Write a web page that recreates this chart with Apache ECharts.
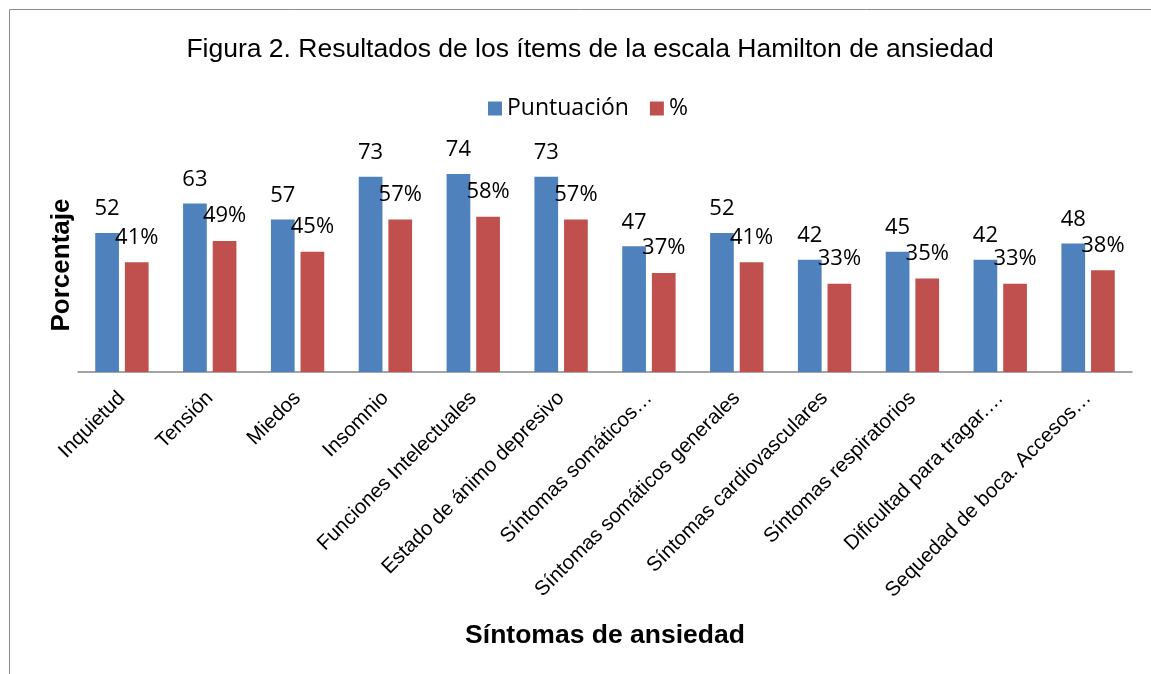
<!DOCTYPE html>
<html>
<head>
<meta charset="utf-8">
<script src="https://cdn.jsdelivr.net/npm/echarts@6/dist/echarts.min.js"></script>
<style>
  html, body { margin: 0; padding: 0; background: #fff; }
  #chart { width: 1151px; height: 674px; }
</style>
</head>
<body>
<div id="chart"></div>
<script>
// Categories and values
const categories = [
  'Inquietud',
  'Tensión',
  'Miedos',
  'Insomnio',
  'Funciones Intelectuales',
  'Estado de ánimo depresivo',
  'Síntomas somáticos…',
  'Síntomas somáticos generales',
  'Síntomas cardiovasculares',
  'Síntomas respiratorios',
  'Dificultad para tragar.…',
  'Sequedad de boca. Accesos…'
]
const puntuacion = [52, 63, 57, 73, 74, 73, 47, 52, 42, 45, 42, 48]
const porcentaje = [41, 49, 45, 57, 58, 57, 37, 41, 33, 35, 33, 38]

const labelFont = '"Open Sans", "Noto Sans", sans-serif'
const arial = '"Liberation Sans", Arial, sans-serif'

const chart = echarts.init(document.getElementById('chart'))

chart.setOption({
  animation: false,
  backgroundColor: '#fff',
  graphic: [
    {
      type: 'rect',
      shape: { x: 9.5, y: 9.5, width: 1300, height: 800 },
      style: { fill: 'none', stroke: '#8c8c8c', lineWidth: 1 },
      silent: true
    }
  ],
  title: {
    text: 'Figura 2. Resultados de los ítems de la escala Hamilton de ansiedad',
    left: 585,
    top: 31,
    textAlign: 'center',
    textStyle: {
      fontFamily: arial,
      fontSize: 26.5,
      fontWeight: 'normal',
      color: '#000'
    }
  },
  legend: {
    data: ['Puntuación', '%'],
    left: 483,
    top: 92,
    itemWidth: 14,
    itemHeight: 14,
    itemGap: 21,
    icon: 'rect',
    textStyle: {
      fontFamily: labelFont,
      fontSize: 23,
      color: '#000'
    }
  },
  grid: {
    left: 78,
    right: 19,
    top: 158,
    bottom: 302,
    containLabel: false
  },
  xAxis: {
    type: 'category',
    data: categories,
    name: 'Síntomas de ansiedad',
    nameLocation: 'middle',
    nameGap: 250,
    nameTextStyle: {
      fontFamily: arial,
      fontSize: 26.5,
      fontWeight: 'bold',
      color: '#000'
    },
    axisLine: { lineStyle: { color: '#868686', width: 1.5 } },
    axisTick: { show: false },
    axisLabel: {
      interval: 0,
      rotate: 45,
      margin: 23,
      fontFamily: arial,
      fontSize: 20.5,
      color: '#000'
    }
  },
  yAxis: {
    type: 'value',
    min: 0,
    max: 80,
    name: 'Porcentaje',
    nameLocation: 'middle',
    nameGap: 3,
    nameRotate: 90,
    nameTextStyle: {
      fontFamily: arial,
      fontSize: 26,
      fontWeight: 'bold',
      color: '#000'
    },
    axisLine: { show: false },
    axisTick: { show: false },
    axisLabel: { show: false },
    splitLine: { show: false }
  },
  series: [
    {
      name: 'Puntuación',
      type: 'bar',
      data: puntuacion,
      barWidth: '27%',
      barGap: '25%',
      itemStyle: { color: '#4f81bd' },
      label: {
        show: true,
        position: 'top',
        distance: 13,
        fontFamily: labelFont,
        fontSize: 22,
        color: '#000'
      }
    },
    {
      name: '%',
      type: 'bar',
      data: porcentaje,
      barWidth: '27%',
      itemStyle: { color: '#c0504d' },
      label: {
        show: true,
        position: 'top',
        distance: 14,
        formatter: '{c}%',
        fontFamily: labelFont,
        fontSize: 22,
        color: '#000'
      }
    }
  ]
})

window.addEventListener('resize', () => chart.resize())
</script>
</body>
</html>
